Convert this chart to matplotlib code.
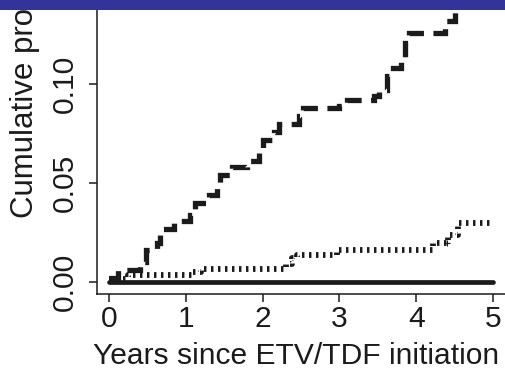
import matplotlib
matplotlib.use("Agg")
import matplotlib.pyplot as plt
from matplotlib.patches import Rectangle

# ---- data -------------------------------------------------------------
year_ticks = [0, 1, 2, 3, 4, 5]
prob_ticks = [0.00, 0.05, 0.10]
prob_tick_labels = ["0.00", "0.05", "0.10"]

# heavy dashed group (cumulative incidence, step function)
dash_time = [0.00, 0.12, 0.40, 0.48, 0.62, 0.66, 0.85, 1.05, 1.12, 1.30,
             1.40, 1.45, 1.60, 1.80, 1.95, 2.00, 2.15, 2.22, 2.47, 2.52,
             3.00, 3.10, 3.45, 3.52, 3.62, 3.66, 3.80, 3.86, 3.90, 4.38,
             4.50, 4.55, 5.00]
dash_cum = [0.002, 0.006, 0.010, 0.016, 0.020, 0.027, 0.031, 0.034, 0.040, 0.044,
            0.050, 0.054, 0.058, 0.061, 0.066, 0.072, 0.076, 0.080, 0.084, 0.088,
            0.089, 0.092, 0.094, 0.097, 0.104, 0.108, 0.113, 0.121, 0.126, 0.132,
            0.138, 0.145, 0.145]

# dotted group
dot_time = [0.00, 0.25, 1.10, 1.20, 2.30, 2.38, 2.45, 2.97, 4.22, 4.42, 4.55, 5.00]
dot_cum = [0.0015, 0.0035, 0.005, 0.0068, 0.009, 0.012, 0.0135, 0.016, 0.020,
           0.024, 0.030, 0.030]
dot_censor_time = [4.40]
dot_censor_cum = [0.020]

# solid group: no events
solid_time = [0.0, 5.0]
solid_cum = [0.0, 0.0]

# ---- figure -----------------------------------------------------------
W, H = 506, 370
DPI = 100
INK = "#1b1b1b"
plt.rcParams["font.family"] = ["Liberation Sans", "DejaVu Sans"]
FS = 21.6
FS_YLAB = 22.5

fig = plt.figure(figsize=(W / DPI, H / DPI), dpi=DPI)
fig.patch.set_facecolor("white")


def fx(px):
    return px / W


def fy(py):
    return (H - py) / H


# axes geometry in pixels
x_lo, x_hi = -0.156, 5.25
y_lo, y_hi = -0.006, 0.15
px_per_year = 76.8
px_per_prob = 1980.0
ax_left, ax_bottom = 97, 294
ax_w = (x_hi - x_lo) * px_per_year
ax_h = (y_hi - y_lo) * px_per_prob
ax = fig.add_axes([fx(ax_left), fy(ax_bottom), ax_w / W, ax_h / H])
ax.set_xlim(x_lo, x_hi)
ax.set_ylim(y_lo, y_hi)
ax.set_facecolor("white")

for side in ("top", "right"):
    ax.spines[side].set_visible(False)
for side in ("left", "bottom"):
    ax.spines[side].set_linewidth(1.1)
    ax.spines[side].set_color(INK)

ax.set_xticks(year_ticks)
ax.set_xticklabels([str(v) for v in year_ticks], fontsize=FS, color=INK)
ax.set_yticks(prob_ticks)
ax.set_yticklabels(prob_tick_labels, fontsize=FS, color=INK,
                   rotation=90, va="center")
ax.tick_params(axis="both", direction="out", length=6, width=1.1, color=INK)
ax.tick_params(axis="x", pad=2)
ax.tick_params(axis="y", pad=7)

# curves
ax.plot(solid_time, solid_cum, color=INK, lw=3.4, solid_capstyle="round",
        zorder=3)
ax.step(dot_time, dot_cum, where="post", color=INK, lw=4.2,
        dashes=(0.42, 0.78), dash_capstyle="butt", zorder=4)
ax.plot(dot_censor_time, dot_censor_cum, linestyle="none", marker="+",
        markersize=5, markeredgewidth=0.8, color=INK, zorder=5)
ax.step(dash_time, dash_cum, where="post", color=INK, lw=3.8,
        dashes=(3.1, 1.8), dash_capstyle="butt", dash_joinstyle="miter",
        zorder=4)

# axis titles
fig.text(fx(296), fy(356), "Years since ETV/TDF initiation", fontsize=FS,
         color=INK, ha="center", va="center")
fig.text(fx(25), fy(218), "Cumulative pro", fontsize=FS_YLAB, color=INK,
         rotation=90, rotation_mode="anchor", ha="left", va="center")

# header band
fig.patches.append(Rectangle((0, fy(10)), 1, 1 - fy(10), transform=fig.transFigure,
                             facecolor="#333399", edgecolor="none", zorder=10))

fig.savefig("out.png", dpi=DPI)
